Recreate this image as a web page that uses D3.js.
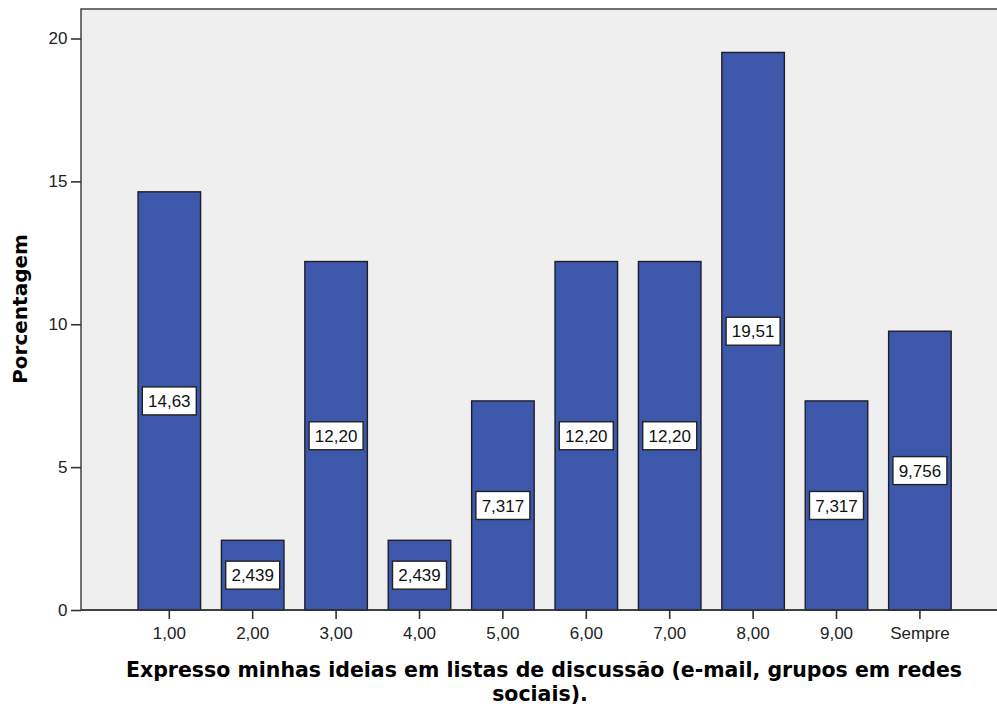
<!DOCTYPE html>
<html>
<head>
<meta charset="utf-8">
<script src="https://cdn.jsdelivr.net/npm/d3@7"></script>
<style>
  body { margin: 0; background: #fff; }
  svg { display: block; }
</style>
</head>
<body>
<div id="chart"></div>
<script>
// chart data
var categories = ["1,00", "2,00", "3,00", "4,00", "5,00", "6,00", "7,00", "8,00", "9,00", "Sempre"];
var values = [14.634, 2.439, 12.195, 2.439, 7.317, 12.195, 12.195, 19.512, 7.317, 9.756];
var valueLabels = ["14,63", "2,439", "12,20", "2,439", "7,317", "12,20", "12,20", "19,51", "7,317", "9,756"];
var yTicks = [0, 5, 10, 15, 20];

var width = 997, height = 707,
  plot = { left: 81, top: 9, right: 997, bottom: 610 },
  sans = "'Liberation Sans', Arial, sans-serif";

var svg = d3.select("#chart").append("svg")
  .attr("width", width)
  .attr("height", height);

var x = d3.scaleBand()
  .domain(categories)
  .range([127.6, 961.6])
  .paddingInner(0.25)
  .paddingOuter(0.125);

var y = d3.scaleLinear()
  .domain([0, 20])
  .range([plot.bottom, 38.5]);

// plot background
svg.append("rect")
  .attr("x", plot.left)
  .attr("y", plot.top)
  .attr("width", plot.right - plot.left + 2)
  .attr("height", plot.bottom - plot.top)
  .attr("fill", "#efefef")
  .attr("stroke", "#444")
  .attr("stroke-width", 1.5);

// bars
svg.selectAll(".bar")
  .data(values)
  .enter().append("rect")
  .attr("class", "bar")
  .attr("x", function(d, i) { return x(categories[i]); })
  .attr("y", function(d) { return y(d); })
  .attr("width", x.bandwidth())
  .attr("height", function(d) { return y(0) - y(d); })
  .attr("fill", "#3d58aa")
  .attr("stroke", "#1e1e2a")
  .attr("stroke-width", 1.4);

// value labels
var lbl = svg.selectAll(".lbl")
  .data(values)
  .enter().append("g")
  .attr("class", "lbl")
  .attr("transform", function(d, i) {
    return "translate(" + (x(categories[i]) + x.bandwidth() / 2) + "," + y(d / 2) + ")";
  });

lbl.append("rect")
  .attr("x", -27)
  .attr("y", -14)
  .attr("width", 54)
  .attr("height", 28)
  .attr("fill", "#fff")
  .attr("stroke", "#222")
  .attr("stroke-width", 1.4);

lbl.append("text")
  .attr("text-anchor", "middle")
  .attr("dy", "0.36em")
  .style("font-family", sans)
  .style("font-size", "17px")
  .attr("fill", "#111")
  .text(function(d, i) { return valueLabels[i]; });

// axes
var xAxis = svg.append("g")
  .attr("transform", "translate(0," + plot.bottom + ")")
  .call(d3.axisBottom(x).tickSize(9).tickPadding(8));
xAxis.select(".domain").remove();

var yAxis = svg.append("g")
  .attr("transform", "translate(" + plot.left + ",0)")
  .call(d3.axisLeft(y).tickValues(yTicks).tickSize(10).tickPadding(3.5));
yAxis.select(".domain").remove();

svg.selectAll(".tick line").attr("stroke", "#333").attr("stroke-width", 1.6);
svg.selectAll(".tick text")
  .style("font-family", sans)
  .style("font-size", "17px")
  .attr("fill", "#222");

// axis line
svg.append("line")
  .attr("x1", plot.left).attr("x2", width)
  .attr("y1", plot.bottom).attr("y2", plot.bottom)
  .attr("stroke", "#333").attr("stroke-width", 1.5);

// axis titles
svg.append("text")
  .attr("transform", "translate(27,309) rotate(-90)")
  .attr("text-anchor", "middle")
  .style("font-family", "'DejaVu Sans', Verdana, sans-serif")
  .style("font-weight", "bold")
  .style("font-size", "20px")
  .attr("fill", "#000")
  .text("Porcentagem");

var xTitle = svg.append("text")
  .attr("text-anchor", "middle")
  .style("font-family", "'DejaVu Sans', Verdana, sans-serif")
  .style("font-weight", "bold")
  .style("font-size", "20.5px")
  .attr("fill", "#000");

xTitle.append("tspan")
  .attr("x", 544).attr("y", 677)
  .text("Expresso minhas ideias em listas de discussão (e-mail, grupos em redes");
xTitle.append("tspan")
  .attr("x", 540).attr("y", 701)
  .text("sociais).");
</script>
</body>
</html>
